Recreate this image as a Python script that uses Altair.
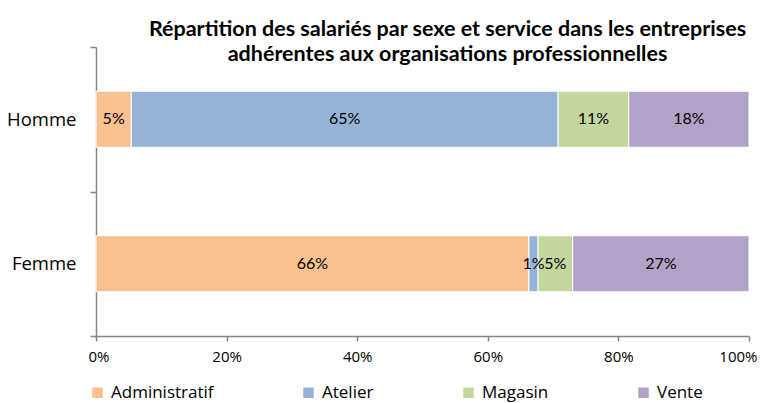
import altair as alt
import pandas as pd

sexes = ["Homme", "Femme"]
services = ["Administratif", "Atelier", "Magasin", "Vente"]
homme = [0.054, 0.653, 0.108, 0.184]
femme = [0.663, 0.014, 0.053, 0.270]
colors = ["#F9C090", "#95B3D7", "#C3D69B", "#B2A2C7"]
x_ticks = [0, 0.2, 0.4, 0.6, 0.8, 1.0]

rows = []
for sexe, vals in zip(sexes, [homme, femme]):
    total = sum(vals)
    cum = 0.0
    for svc, v in zip(services, vals):
        share = v / total
        rows.append({"sexe": sexe, "service": svc, "val": v,
                     "start": cum, "end": cum + share, "mid": cum + share / 2})
        cum += share
df = pd.DataFrame(rows)

FONT = "Open Sans"
TFONT = "Lato"
AXIS_COLOR = "#868686"

y_enc = alt.Y("sexe:N", sort=sexes, title=None,
              scale=alt.Scale(paddingInner=0, paddingOuter=0),
              axis=alt.Axis(tickBand="extent", domainColor=AXIS_COLOR, tickColor=AXIS_COLOR,
                            tickSize=6, labelPadding=14, labelFontSize=18.5, labelFont=FONT,
                            labelColor="#000000", domainWidth=1.5, tickWidth=1.5))

bars = alt.Chart(df).mark_bar(stroke="white", strokeWidth=1, size=56).encode(
    x=alt.X("start:Q", title=None,
            scale=alt.Scale(domain=[0, 1], nice=False),
            axis=alt.Axis(values=x_ticks, format=".0%", grid=False, domainColor=AXIS_COLOR,
                          tickColor=AXIS_COLOR, tickSize=5, labelPadding=8, labelFontSize=15,
                          labelFont=FONT, labelColor="#000000", domainWidth=1.5, tickWidth=1.5,
                          labelFlush=True, labelFlushOffset=8)),
    x2="end:Q",
    y=y_enc,
    color=alt.Color("service:N", sort=services,
                    scale=alt.Scale(domain=services, range=colors),
                    legend=alt.Legend(title=None, orient="none", direction="horizontal",
                                      legendX=-7, legendY=337, symbolType="square",
                                      symbolSize=110, symbolStrokeWidth=0, labelFontSize=17,
                                      labelFont=FONT, labelColor="#000000", columnPadding=86,
                                      labelOffset=5)),
)

labels = alt.Chart(df).mark_text(fontSize=16, font=TFONT, color="#000000").encode(
    x=alt.X("mid:Q"),
    y=alt.Y("sexe:N", sort=sexes),
    text=alt.Text("val:Q", format=".0%"),
)

chart = alt.layer(bars, labels).properties(
    width=653, height=289,
    title=alt.TitleParams(
        ["Répartition des salariés par sexe et service dans les entreprises",
         "adhérentes aux organisations professionnelles"],
        fontSize=21.5, font=TFONT, fontWeight="bold", anchor="middle", dx=25,
        lineHeight=25, offset=-27, color="#000000"),
    autosize=alt.AutoSizeParams(type="none"),
    padding={"left": 88, "top": 39, "right": 14, "bottom": 80},
).configure_view(stroke=None)

chart.save("out.html", embed_options={"renderer": "svg", "actions": False})
